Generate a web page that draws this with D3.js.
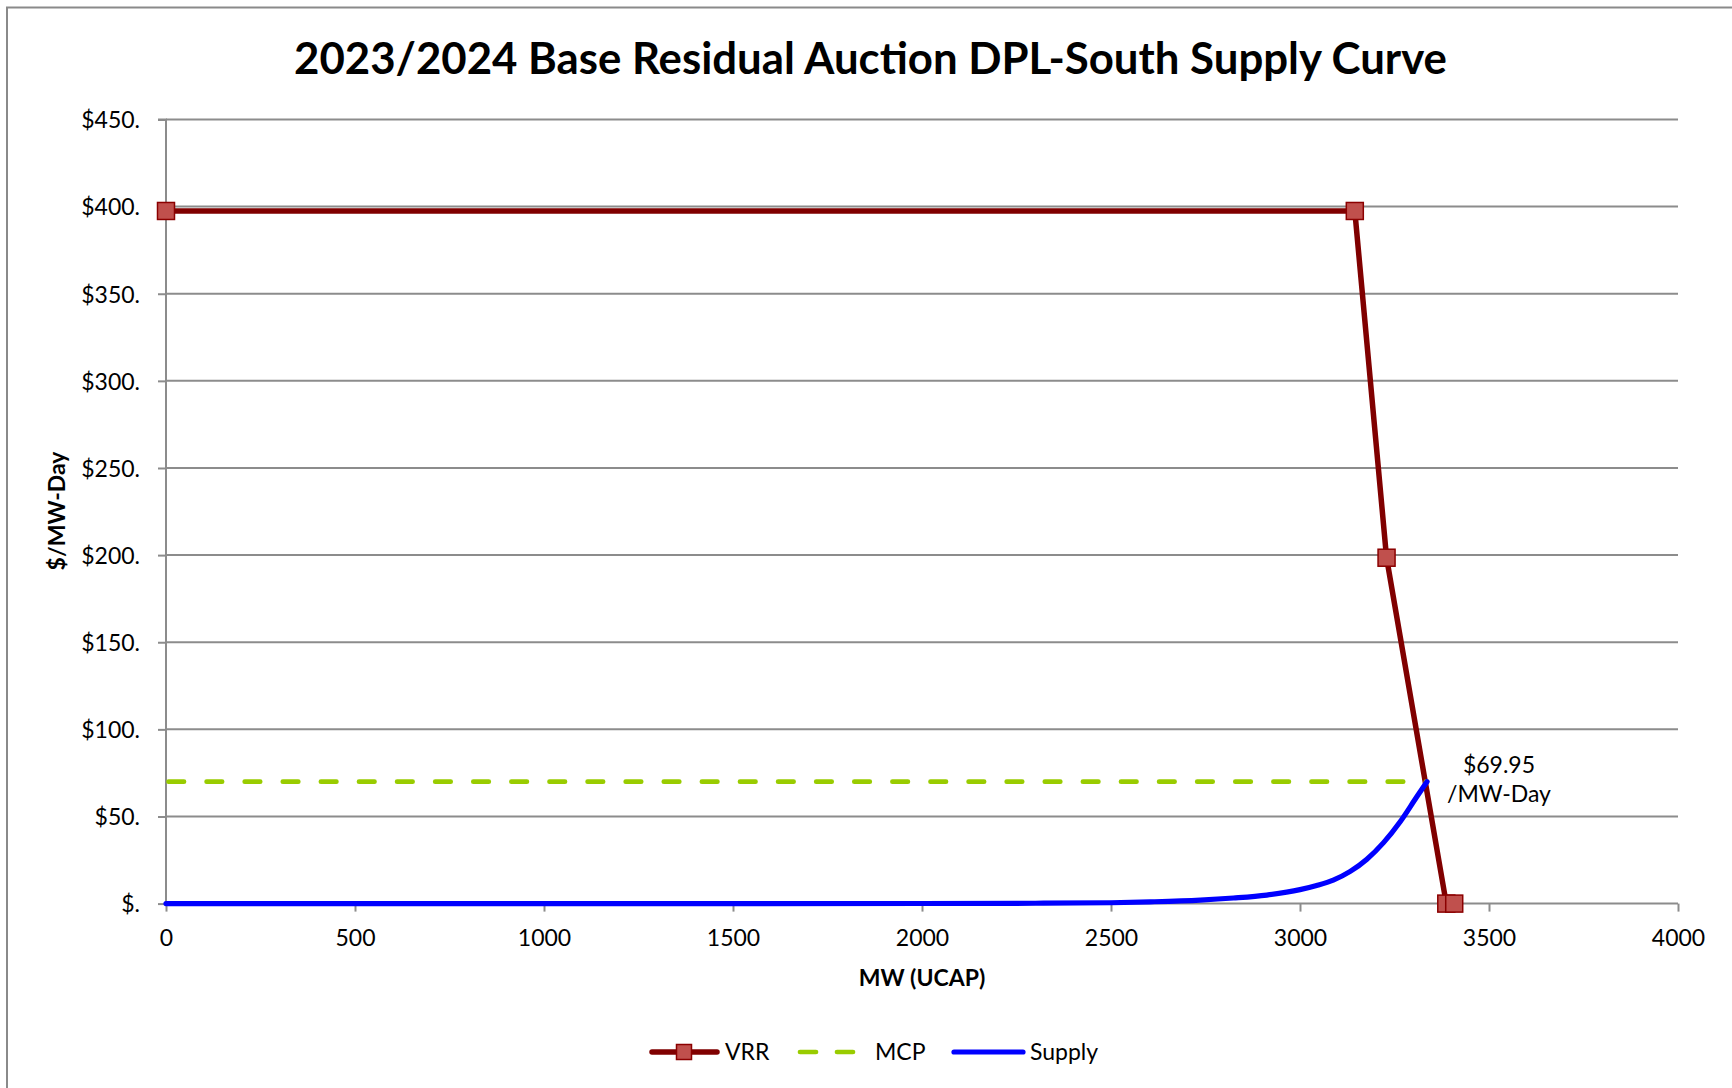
<!DOCTYPE html>
<html><head><meta charset="utf-8">
<script src="https://cdn.jsdelivr.net/npm/d3@7"></script>
<style>html,body{margin:0;padding:0;background:#fff;} svg{display:block;}</style>
</head><body>
<svg id="chart" width="1732" height="1088"></svg>
<script>
// ---------- data ----------
const chartTitle = "2023/2024 Base Residual Auction DPL-South Supply Curve";
const xAxisTitle = "MW (UCAP)";
const yAxisTitle = "$/MW-Day";
const xTickValues = [0, 500, 1000, 1500, 2000, 2500, 3000, 3500, 4000];
const yTickValues = [0, 50, 100, 150, 200, 250, 300, 350, 400, 450];
const yTickLabels = ["$.", "$50.", "$100.", "$150.", "$200.", "$250.", "$300.", "$350.", "$400.", "$450."];
const seriesNames = ["VRR", "MCP", "Supply"];
const vrrMW    = [0, 3145, 3229, 3387, 3408];
const vrrPrice = [397.5, 397.5, 198.5, 0, 0];
const mcpMW    = [0, 3336];
const mcpPrice = [69.95, 69.95];
const supplyMW    = [0, 1000, 1500, 2000, 2300, 2500, 2604, 2736, 2824, 2912, 3000, 3044, 3088, 3133, 3177, 3221, 3265, 3309, 3336];
const supplyPrice = [0, 0, 0, 0.05, 0.2, 0.5, 1.0, 2.0, 3.2, 4.9, 8.0, 10.4, 13.5, 18.5, 25.5, 35.0, 47.0, 61.3, 69.95];
const mcpLabelLines = ["$69.95", "/MW-Day"];

// ---------- layout ----------
const FONT = "Lato, 'Open Sans', sans-serif";
const svg = d3.select("#chart");
const x = d3.scaleLinear().domain([0, 4000]).range([166, 1678]);
const y = d3.scaleLinear().domain([0, 450]).range([903.6, 119.5]);
const gridColor = "#8c8c8c";

// outer border
svg.append("rect").attr("x", 7).attr("y", 7.5).attr("width", 2000).attr("height", 2000)
  .attr("fill", "none").attr("stroke", "#8a8a8a").attr("stroke-width", 2);

// title
const t = svg.append("text").attr("x", 870.5).attr("y", 74).attr("text-anchor", "middle")
  .attr("font-family", FONT).attr("font-weight", "bold").attr("font-size", 44).attr("fill", "#000")
  .text(chartTitle);
{ const l = t.node().getComputedTextLength(); t.attr("font-size", 44 * 1153 / l); }

// gridlines
svg.append("g").selectAll("line").data(yTickValues.filter(v => v > 0)).join("line")
  .attr("x1", x(0)).attr("x2", x(4000)).attr("y1", d => y(d)).attr("y2", d => y(d))
  .attr("stroke", gridColor).attr("stroke-width", 2);

// axes
const yAxis = d3.axisLeft(y).tickValues(yTickValues).tickSize(8).tickPadding(18)
  .tickFormat((d, i) => yTickLabels[i]);
const gy = svg.append("g").attr("transform", `translate(${x(0)},0)`).call(yAxis);
const xAxis = d3.axisBottom(x).tickValues(xTickValues).tickSize(8).tickPadding(18)
  .tickFormat(d3.format("d"));
const gx = svg.append("g").attr("transform", `translate(0,${y(0)})`).call(xAxis);
[gx, gy].forEach(g => {
  g.select(".domain").attr("stroke", gridColor).attr("stroke-width", 2);
  g.selectAll(".tick line").attr("stroke", gridColor).attr("stroke-width", 2);
  g.selectAll(".tick text").attr("font-family", FONT).attr("font-size", 23).attr("fill", "#000");
});
gy.select(".domain").attr("d", `M-8,${y(450)}H0V${y(0)}`);
gx.select(".domain").attr("d", `M${x(0)},0H${x(4000)}`);
gy.selectAll(".tick text").attr("dy", "0.36em").attr("x", -26);
gx.selectAll(".tick text").attr("dy", "0.71em").attr("y", 26);

// axis titles
svg.append("text").attr("x", 922).attr("y", 986).attr("text-anchor", "middle")
  .attr("font-family", FONT).attr("font-weight", "bold").attr("font-size", 23).text(xAxisTitle);
svg.append("text").attr("transform", "translate(65,511) rotate(-90)").attr("text-anchor", "middle")
  .attr("font-family", FONT).attr("font-weight", "bold").attr("font-size", 23).text(yAxisTitle);

// series
const line = d3.line().x(d => x(d[0])).y(d => y(d[1]));
const vrrData = vrrMW.map((m, i) => [m, vrrPrice[i]]);
const mcpData = mcpMW.map((m, i) => [m, mcpPrice[i]]);
const supplyData = supplyMW.map((m, i) => [m, supplyPrice[i]]);

svg.append("path").datum(vrrData).attr("d", line).attr("fill", "none")
  .attr("stroke", "#800000").attr("stroke-width", 5.5).attr("stroke-linejoin", "round");
svg.append("g").selectAll("rect").data(vrrData).join("rect")
  .attr("x", d => x(d[0]) - 8.5).attr("y", d => y(d[1]) - 8.5).attr("width", 17).attr("height", 17)
  .attr("fill", "#c0504d").attr("stroke", "#8b0000").attr("stroke-width", 1.5);

svg.append("path").datum(mcpData).attr("d", line).attr("fill", "none")
  .attr("stroke", "#99cc00").attr("stroke-width", 4.7).attr("stroke-linecap", "round")
  .attr("stroke-dasharray", "15.5,22.6").attr("stroke-dashoffset", -2.5);

const smooth = d3.line().x(d => x(d[0])).y(d => y(d[1])).curve(d3.curveMonotoneX);
svg.append("path").datum(supplyData).attr("d", smooth).attr("fill", "none")
  .attr("stroke", "#0000ff").attr("stroke-width", 5.2).attr("stroke-linecap", "round");

// MCP label
svg.append("text").attr("font-family", FONT).attr("font-size", 23).attr("text-anchor", "middle")
  .selectAll("tspan").data(mcpLabelLines).join("tspan")
  .attr("x", 1499).attr("y", (d, i) => 773 + i * 29).text(d => d);

// legend
const ly = 1052;
const lg = svg.append("g").attr("font-family", FONT).attr("font-size", 23);
// VRR
lg.append("line").attr("x1", 652).attr("x2", 717).attr("y1", ly).attr("y2", ly)
  .attr("stroke", "#800000").attr("stroke-width", 5.5).attr("stroke-linecap", "round");
lg.append("rect").attr("x", 684 - 7.5).attr("y", ly - 7.5).attr("width", 15).attr("height", 15)
  .attr("fill", "#c0504d").attr("stroke", "#8b0000").attr("stroke-width", 1.5);
lg.append("text").attr("x", 725).attr("y", ly + 8).text(seriesNames[0]);
// MCP
lg.append("line").attr("x1", 800).attr("x2", 856).attr("y1", ly).attr("y2", ly)
  .attr("stroke", "#99cc00").attr("stroke-width", 4.7).attr("stroke-linecap", "round")
  .attr("stroke-dasharray", "16,21");
lg.append("text").attr("x", 875).attr("y", ly + 8).text(seriesNames[1]);
// Supply
lg.append("line").attr("x1", 954).attr("x2", 1023).attr("y1", ly).attr("y2", ly)
  .attr("stroke", "#0000ff").attr("stroke-width", 5.2).attr("stroke-linecap", "round");
lg.append("text").attr("x", 1030).attr("y", ly + 8).text(seriesNames[2]);
</script>
</body></html>
